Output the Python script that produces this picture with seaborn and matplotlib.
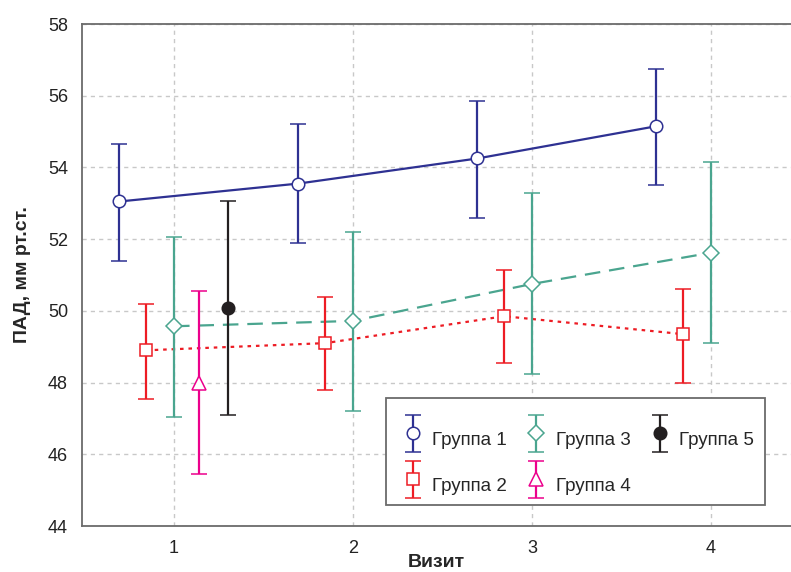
import matplotlib
matplotlib.use("Agg")
import matplotlib.pyplot as plt
from matplotlib.legend_handler import HandlerErrorbar
from matplotlib.container import ErrorbarContainer
from matplotlib.patches import Rectangle
import seaborn as sns
import pandas as pd
import numpy as np

# ---- data ----
visits = [1, 2, 3, 4]
xticks = [1, 2, 3, 4]
yticks = [44, 46, 48, 50, 52, 54, 56, 58]
groups = ["Группа 1", "Группа 2", "Группа 3", "Группа 4", "Группа 5"]

g1_mean = [53.05, 53.55, 54.25, 55.15]
g1_low = [51.40, 51.90, 52.60, 53.50]
g1_high = [54.65, 55.20, 55.85, 56.75]

g2_mean = [48.90, 49.10, 49.85, 49.35]
g2_low = [47.55, 47.80, 48.55, 48.00]
g2_high = [50.20, 50.40, 51.15, 50.60]

g3_mean = [49.57, 49.72, 50.75, 51.62]
g3_low = [47.05, 47.20, 48.25, 49.10]
g3_high = [52.05, 52.20, 53.30, 54.15]

g4_visits = [1]
g4_mean = [48.00]
g4_low = [45.45]
g4_high = [50.55]

g5_visits = [1]
g5_mean = [50.08]
g5_low = [47.10]
g5_high = [53.05]

xlabel = "Визит"
ylabel = "ПАД, мм рт.ст."

# ---- styles ----
offsets = {"Группа 1": -0.305, "Группа 2": -0.155, "Группа 3": 0.0,
           "Группа 4": 0.14, "Группа 5": 0.30}
colors = {"Группа 1": "#2e3192", "Группа 2": "#ed1c24", "Группа 3": "#4aa58f",
          "Группа 4": "#ec008c", "Группа 5": "#231f20"}
markers = {"Группа 1": "o", "Группа 2": "s", "Группа 3": "D",
           "Группа 4": "^", "Группа 5": "o"}
msizes = {"Группа 1": 9, "Группа 2": 8, "Группа 3": 8.5, "Группа 4": 10, "Группа 5": 9}
mfaces = {"Группа 1": "white", "Группа 2": "white", "Группа 3": "white",
          "Группа 4": "white", "Группа 5": "#231f20"}
dashes = {"Группа 1": "", "Группа 2": (1.6, 2.2), "Группа 3": (7, 4),
          "Группа 4": "", "Группа 5": ""}

rows = []
for g, vs, m, lo, hi in [
    ("Группа 1", visits, g1_mean, g1_low, g1_high),
    ("Группа 2", visits, g2_mean, g2_low, g2_high),
    ("Группа 3", visits, g3_mean, g3_low, g3_high),
    ("Группа 4", g4_visits, g4_mean, g4_low, g4_high),
    ("Группа 5", g5_visits, g5_mean, g5_low, g5_high),
]:
    for v, mm, l, h in zip(vs, m, lo, hi):
        rows.append(dict(group=g, visit=v, x=v + offsets[g], mean=mm, low=l, high=h))
df = pd.DataFrame(rows)

sns.set_style("white")
font = ["Liberation Sans", "DejaVu Sans"]
plt.rcParams["font.family"] = font

fig = plt.figure(figsize=(7.91, 5.72), dpi=100)
ax = fig.add_axes([82 / 791, 46 / 572, 709 / 791, 502 / 572])

# lines
line_groups = ["Группа 1", "Группа 2", "Группа 3"]
sns.lineplot(data=df[df.group.isin(line_groups)], x="x", y="mean", hue="group",
             style="group", palette=colors, dashes=dashes, hue_order=line_groups,
             style_order=line_groups, linewidth=1.6, ax=ax, legend=False,
             estimator=None, sort=True, zorder=2)

# error bars with markers
handles = []
for g in groups:
    sub = df[df.group == g]
    h = ax.errorbar(sub["x"], sub["mean"],
                    yerr=[sub["mean"] - sub["low"], sub["high"] - sub["mean"]],
                    fmt=markers[g], color=colors[g], ecolor=colors[g],
                    markersize=msizes[g], markerfacecolor=mfaces[g],
                    markeredgecolor=colors[g], markeredgewidth=1.1,
                    elinewidth=1.6, capsize=6, capthick=1.6, label=g, zorder=3)
    handles.append(h)

ax.set_xlim(0.486, 4.447)
ax.set_ylim(44, 58)
ax.set_xticks(xticks)
ax.set_yticks(yticks)
ax.set_xticklabels([str(t) for t in xticks])
ax.set_yticklabels([str(t) for t in yticks])
ax.tick_params(axis="both", labelsize=13, colors="#222222", direction="in",
               length=4, width=1, pad=10)
ax.tick_params(axis="both", color="#666666")
ax.grid(True, color="#c8c8c8", linestyle=(0, (3, 3)), linewidth=1)
ax.set_axisbelow(True)

for side in ["left", "bottom", "top"]:
    ax.spines[side].set_visible(True)
    ax.spines[side].set_color("#6b6b6b")
    ax.spines[side].set_linewidth(1.3)
ax.spines["right"].set_visible(False)

ax.set_xlabel(xlabel, fontsize=14, fontweight="bold", labelpad=-2)
ax.set_ylabel(ylabel, fontsize=14, fontweight="bold", labelpad=12)

# legend frame drawn separately
frame = Rectangle((304 / 709, 21 / 502), 379 / 709, 107 / 502,
                  transform=ax.transAxes, facecolor="white",
                  edgecolor="#6b6b6b", linewidth=1.3, zorder=4.5)
ax.add_patch(frame)

leg_fs = 13.5
leg = ax.legend(handles=handles, labels=groups, ncol=3, loc="lower right",
                bbox_to_anchor=(0.960, 0.028), fontsize=leg_fs, frameon=False,
                handlelength=1.0,
                handleheight=2.6, handletextpad=0.55, columnspacing=1.05,
                labelspacing=0.5, borderpad=0.45, borderaxespad=0,
                handler_map={ErrorbarContainer: HandlerErrorbar(yerr_size=0.98)})
leg.set_zorder(5)

fig.savefig("out.png", dpi=100)
